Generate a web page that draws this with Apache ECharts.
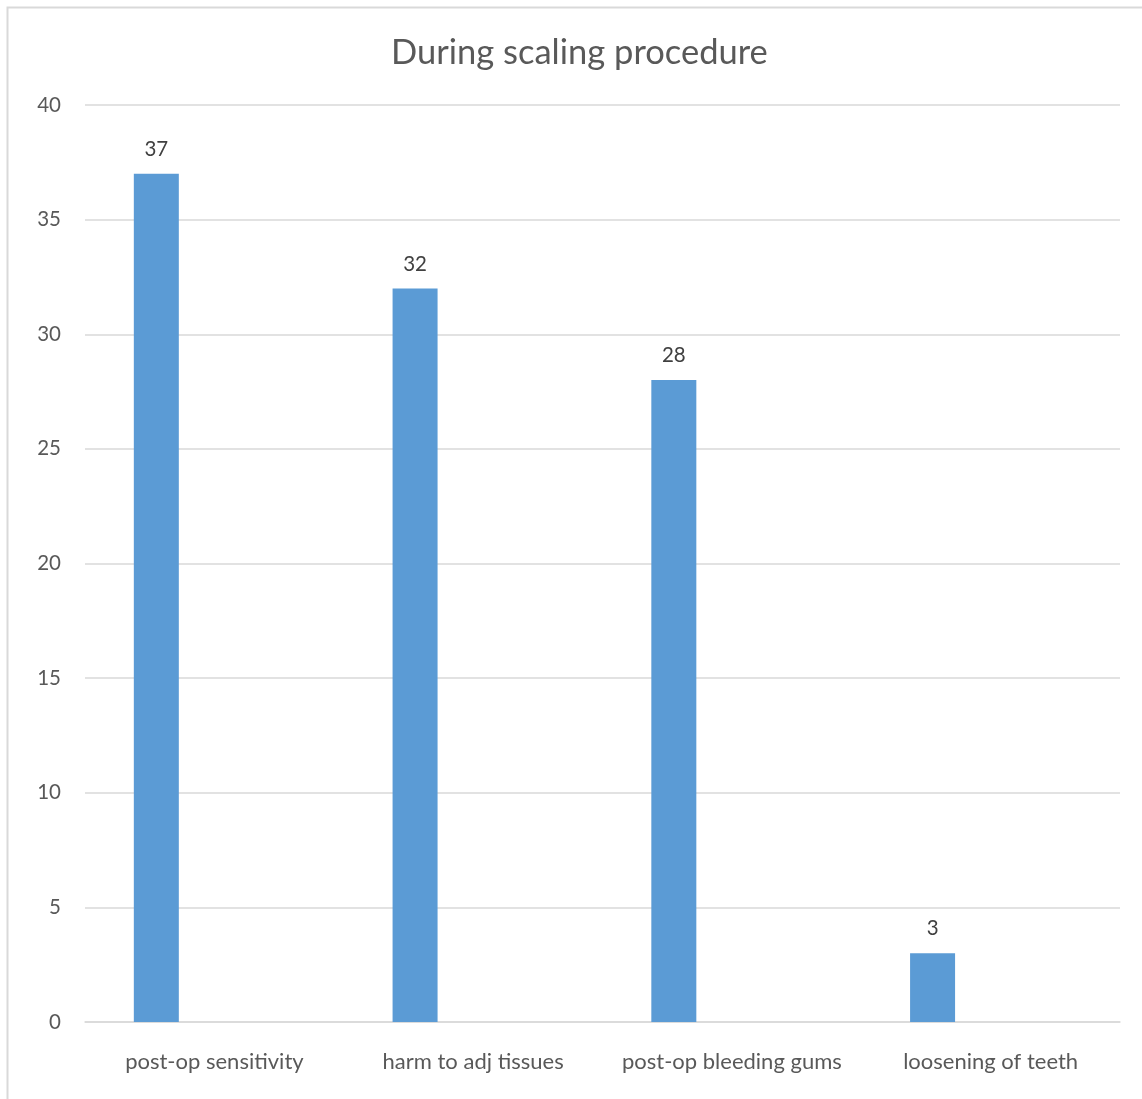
<!DOCTYPE html>
<html>
<head>
<meta charset="utf-8">
<title>During scaling procedure</title>
<script src="https://cdn.jsdelivr.net/npm/echarts@6/dist/echarts.min.js"></script>
<style>
  html, body { margin: 0; padding: 0; background: #fff; }
  #chart { width: 1142px; height: 1099px; }
</style>
</head>
<body>
<div id="chart"></div>
<script>
// Complications reported during the scaling procedure
const categories = ['post-op sensitivity', 'harm to adj tissues', 'post-op bleeding gums', 'loosening of teeth'];
const counts = [37, 32, 28, 3];
// empty companion series: keeps the bars in the left slot of each category
const emptySlot = ['-', '-', '-', '-'];
const yTicks = { min: 0, max: 40, interval: 5 };

const FONT = 'Lato, "Open Sans", sans-serif';
const chart = echarts.init(document.getElementById('chart'), null, { renderer: 'canvas' });

chart.setOption({
  backgroundColor: '#ffffff',
  animation: false,
  graphic: [{
    type: 'rect',
    shape: { x: 7.5, y: 7.5, width: 1300, height: 1300 },
    style: { fill: 'none', stroke: '#d9d9d9', lineWidth: 2 },
    silent: true,
    z: -1
  }],
  title: {
    text: 'During scaling procedure',
    left: 386,
    top: 30,
    textStyle: { fontFamily: FONT, fontSize: 34.5, fontWeight: 'normal', color: '#595959' }
  },
  grid: { left: 85, right: 22, top: 105, bottom: 77 },
  xAxis: {
    type: 'category',
    data: categories,
    axisLine: { show: true, lineStyle: { color: '#d9d9d9', width: 1.5 } },
    axisTick: { show: false },
    axisLabel: {
      interval: 0,
      hideOverlap: false,
      margin: 29,
      fontFamily: FONT,
      fontSize: 22,
      color: '#595959'
    }
  },
  yAxis: {
    type: 'value',
    min: yTicks.min,
    max: yTicks.max,
    interval: yTicks.interval,
    axisLine: { show: false },
    axisTick: { show: false },
    splitLine: { lineStyle: { color: '#d9d9d9', width: 1.5 } },
    axisLabel: { margin: 24, fontFamily: FONT, fontSize: 20.5, color: '#595959' }
  },
  series: [
    {
      name: 'count',
      type: 'bar',
      data: counts,
      barWidth: 45,
      barGap: '158%',
      itemStyle: { color: '#5b9bd5' },
      label: {
        show: true,
        position: 'top',
        distance: 14,
        fontFamily: FONT,
        fontSize: 20.5,
        color: '#404040'
      }
    },
    {
      name: 'spacer',
      type: 'bar',
      data: emptySlot,
      barWidth: 45,
      itemStyle: { color: '#ed7d31' }
    }
  ]
});
</script>
</body>
</html>
